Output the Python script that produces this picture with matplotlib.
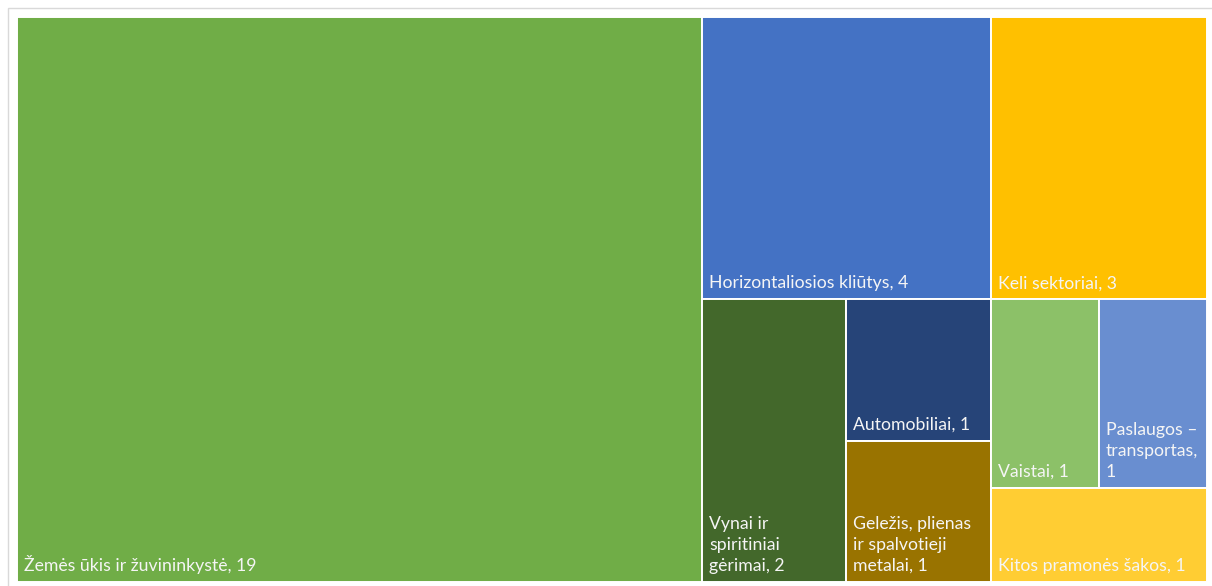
import matplotlib
matplotlib.use("Agg")
import matplotlib.pyplot as plt
from matplotlib.patches import Rectangle

# ---- data ----
labels = [
    "Žemės ūkis ir žuvininkystė, 19",
    "Horizontaliosios kliūtys, 4",
    "Keli sektoriai, 3",
    "Vynai ir\nspiritiniai\ngėrimai, 2",
    "Automobiliai, 1",
    "Geležis, plienas\nir spalvotieji\nmetalai, 1",
    "Vaistai, 1",
    "Paslaugos –\ntransportas,\n1",
    "Kitos pramonės šakos, 1",
]
values = [19, 4, 3, 2, 1, 1, 1, 1, 1]
colors = ["#70AD47", "#4472C4", "#FFC000", "#43682B", "#264478",
          "#997300", "#8CC168", "#698ED0", "#FFCD33"]

W, H = 1212, 586
PX0, PY0, PX1, PY1 = 17, 17, 1207, 582


def worst(row, side):
    s = sum(row)
    if s == 0:
        return float("inf")
    return max(max(side * side * r / (s * s), (s * s) / (side * side * r)) for r in row)


def squarify(vals, x, y, w, h):
    total = sum(vals)
    areas = [v * w * h / total for v in vals]
    rects = []
    i = 0
    while i < len(areas):
        side = min(w, h)
        row = [areas[i]]
        j = i + 1
        while j < len(areas) and worst(row + [areas[j]], side) <= worst(row, side):
            row.append(areas[j])
            j += 1
        s = sum(row)
        if w >= h:
            cw = s / h
            cy = y
            for a in row:
                ch = a / cw
                rects.append((x, cy, cw, ch))
                cy += ch
            x += cw
            w -= cw
        else:
            rh = s / w
            cx = x
            for a in row:
                rw = a / rh
                rects.append((cx, y, rw, rh))
                cx += rw
            y += rh
            h -= rh
        i = j
    return rects


rects = squarify(values, PX0, PY0, PX1 - PX0, PY1 - PY0)

fig = plt.figure(figsize=(W / 100, H / 100), dpi=100)
ax = fig.add_axes([0, 0, 1, 1])
ax.set_xlim(0, W)
ax.set_ylim(H, 0)
ax.axis("off")

ax.add_patch(Rectangle((7.5, 7.5), W + 10, H + 10, facecolor="white",
                       edgecolor="#D9D9D9", linewidth=1.0))

for (x, y, w, h), lab, c in zip(rects, labels, colors):
    ax.add_patch(Rectangle((x, y), w, h, facecolor=c, edgecolor="white", linewidth=1.4))
    ax.text(x + 7, y + h - 8, lab, color="#F5F5F5", fontsize=12.7, family="Lato",
            ha="left", va="bottom", linespacing=1.38)

fig.savefig("out.png", dpi=100)
